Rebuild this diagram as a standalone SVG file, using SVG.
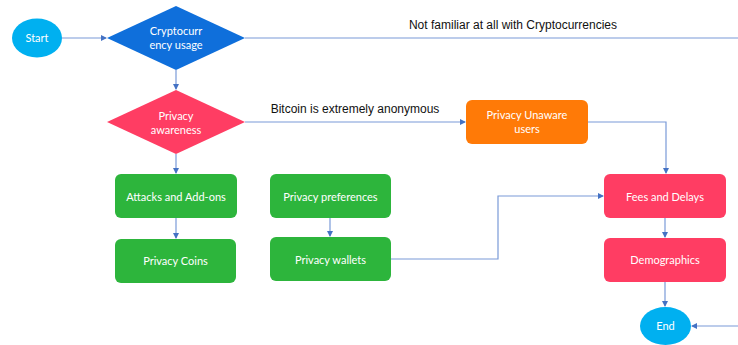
<svg xmlns="http://www.w3.org/2000/svg" width="738" height="345" viewBox="0 0 738 345">
<defs>
<marker id="arr" markerWidth="6" markerHeight="6" refX="5" refY="3" orient="auto" markerUnits="userSpaceOnUse">
<path d="M0,0 L6,3 L0,6 z" fill="#4472C4"/>
</marker>
<style>
.c{fill:none;stroke:#7A9AD8;stroke-width:1.2}
.t{font-family:Lato,"Liberation Sans",sans-serif;font-size:11px;fill:#ffffff;text-anchor:middle}
.l{font-family:"Liberation Sans",Arial,sans-serif;font-size:12px;fill:#111111;text-anchor:middle}
.g{fill:#2DB53C}
.p{fill:#FF3D63}
.b{fill:#00B0F0}
</style>
</defs>
<rect width="738" height="345" fill="#ffffff"/>
<g id="connectors">
<path class="c" d="M62,38 H106" marker-end="url(#arr)"/>
<path class="c" d="M245,38 H738"/>
<path class="c" d="M176,70 V89" marker-end="url(#arr)"/>
<path class="c" d="M245,122 H465" marker-end="url(#arr)"/>
<path class="c" d="M176,154 V173" marker-end="url(#arr)"/>
<path class="c" d="M176,218 V238" marker-end="url(#arr)"/>
<path class="c" d="M330,218 V236" marker-end="url(#arr)"/>
<path class="c" d="M588,122 H666 V173" marker-end="url(#arr)"/>
<path class="c" d="M391,259 H498 V196 H603" marker-end="url(#arr)"/>
<path class="c" d="M665,218 V237" marker-end="url(#arr)"/>
<path class="c" d="M665,282 V306" marker-end="url(#arr)"/>
<path class="c" d="M738,326 H692" marker-end="url(#arr)"/>
<text class="l" x="513" y="29">Not familiar at all with Cryptocurrencies</text>
<text class="l" x="355" y="113">Bitcoin is extremely anonymous</text>
</g>
<g id="start"><ellipse class="b" cx="37" cy="38" rx="25" ry="19.5"/><text class="t" x="37" y="42">Start</text></g>
<g id="crypto"><polygon points="107,38 176,6 245,38 176,70" fill="#0F6FDB"/><text class="t" x="176" y="35">Cryptocurr</text><text class="t" x="176" y="49">ency usage</text></g>
<g id="awareness"><polygon class="p" points="107,122 176,90 245,122 176,154"/><text class="t" x="176" y="120">Privacy</text><text class="t" x="176" y="134">awareness</text></g>
<g id="unaware"><rect x="466" y="100" width="122" height="44" rx="6" fill="#FF7A07"/><text class="t" x="527" y="119">Privacy Unaware</text><text class="t" x="527" y="133">users</text></g>
<g id="attacks"><rect class="g" x="115" y="174" width="122" height="44" rx="6"/><text class="t" x="176" y="201">Attacks and Add-ons</text></g>
<g id="coins"><rect class="g" x="115" y="239" width="121" height="44" rx="6"/><text class="t" x="175.5" y="265">Privacy Coins</text></g>
<g id="preferences"><rect class="g" x="270" y="174" width="121" height="44" rx="6"/><text class="t" x="330.5" y="201">Privacy preferences</text></g>
<g id="wallets"><rect class="g" x="270" y="237" width="121" height="44" rx="6"/><text class="t" x="330.5" y="264">Privacy wallets</text></g>
<g id="fees"><rect class="p" x="604" y="174" width="122" height="44" rx="6"/><text class="t" x="665" y="201">Fees and Delays</text></g>
<g id="demographics"><rect class="p" x="604" y="238" width="122" height="44" rx="6"/><text class="t" x="665" y="264">Demographics</text></g>
<g id="end"><ellipse class="b" cx="665.5" cy="326" rx="25.5" ry="19"/><text class="t" x="665.5" y="330">End</text></g>
</svg>
